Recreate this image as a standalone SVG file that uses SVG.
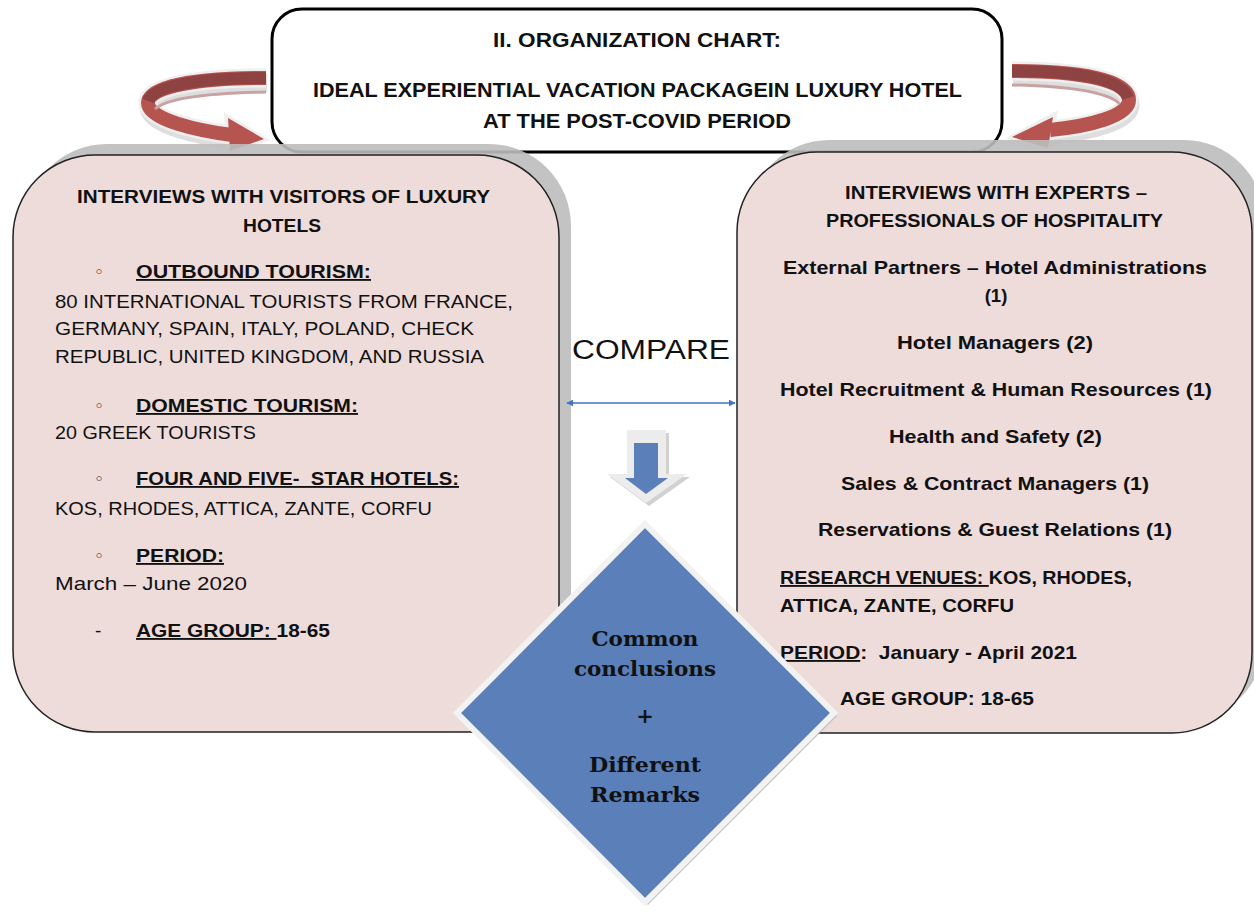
<svg xmlns="http://www.w3.org/2000/svg" width="1254" height="915" viewBox="0 0 1254 915">
<style>
.b{font-family:"Liberation Sans",Arial,sans-serif;font-weight:bold;font-size:18.5px;fill:#111}
.r{font-family:"Liberation Sans",Arial,sans-serif;font-size:19px;fill:#111}
.t{font-family:"Liberation Sans",Arial,sans-serif;font-weight:bold;font-size:19.5px;fill:#111}
.s{font-family:"DejaVu Serif","Liberation Serif",serif;font-weight:bold;font-size:21px;fill:#111}
.u{text-decoration:underline}
.pre{white-space:pre}
.box{fill:#eedcdb;stroke:#222;stroke-width:1.5}
.shadow{fill:#bdbdbd;opacity:0.9}
.bul{font-family:"DejaVu Sans",sans-serif;font-size:17px;fill:#111}
</style>
<defs>
<marker id="ah" viewBox="0 0 10 10" refX="9" refY="5" markerWidth="7" markerHeight="7" orient="auto-start-reverse" markerUnits="userSpaceOnUse">
<path d="M0,0 L10,5 L0,10 z" fill="#4472c4"/>
</marker>
</defs>
<rect width="1254" height="915" fill="#ffffff"/>

<g id="curved-arrow-left">
<path d="M266 80 C200 80 148 88 148 104 C148 122 200 133 234 137" fill="none" stroke="#c8c8c8" stroke-width="19" transform="translate(1,3)" opacity="0.6"/>
<path d="M266 78 C200 78 148 86 148 103 C148 120 200 131 234 135" fill="none" stroke="#efefef" stroke-width="19"/>
<polygon points="224,112 270,140 226,158" fill="#efefef"/>
<polygon points="228,118 264,139 230,151" fill="#b65450"/>
<path d="M266 78 C200 78 148 86 148 103 C148 120 200 131 232 135" fill="none" stroke="#b65450" stroke-width="14"/>
<path d="M266 78 C205 78 155 84 148 101" fill="none" stroke="#8e4242" stroke-width="12"/>
<path d="M266 92 C212 93 168 97 155 109" fill="none" stroke="#c9a3a3" stroke-width="3"/>
</g>

<g id="curved-arrow-right">
<path d="M1012 73 C1080 73 1129 82 1129 102 C1129 118 1090 128 1050 132" fill="none" stroke="#c8c8c8" stroke-width="19" transform="translate(1,3)" opacity="0.6"/>
<path d="M1012 71 C1080 71 1129 80 1129 100 C1129 116 1090 126 1050 130" fill="none" stroke="#efefef" stroke-width="19"/>
<polygon points="1058,110 1006,138 1052,156" fill="#efefef"/>
<polygon points="1053,117 1012,137 1048,148" fill="#b65450"/>
<path d="M1012 71 C1080 71 1129 80 1129 100 C1129 116 1090 126 1050 130" fill="none" stroke="#b65450" stroke-width="14"/>
<path d="M1012 71 C1075 71 1122 78 1128 98" fill="none" stroke="#8e4242" stroke-width="12"/>
<path d="M1012 85 C1066 86 1106 91 1120 104" fill="none" stroke="#c9a3a3" stroke-width="3"/>
</g>

<g id="title">
<rect x="272" y="9" width="730" height="143" rx="30" ry="30" fill="#ffffff" stroke="#000" stroke-width="3"/>
<text class="t" x="493" y="47" textLength="288" lengthAdjust="spacingAndGlyphs">II. ORGANIZATION CHART:</text>
<text class="t" x="313" y="97" textLength="649" lengthAdjust="spacingAndGlyphs">IDEAL EXPERIENTIAL VACATION PACKAGEIN LUXURY HOTEL</text>
<text class="t" x="483" y="128" textLength="308" lengthAdjust="spacingAndGlyphs">AT THE POST-COVID PERIOD</text>
</g>

<g id="visitors">
<rect class="shadow" x="25" y="144" width="546" height="577" rx="82" ry="82"/>
<rect class="box" x="13" y="155" width="546" height="577" rx="82" ry="82"/>
<text class="b" x="77" y="203" textLength="413" lengthAdjust="spacingAndGlyphs">INTERVIEWS WITH VISITORS OF LUXURY</text>
<text class="b" x="243" y="232" textLength="78" lengthAdjust="spacingAndGlyphs">HOTELS</text>
<text class="bul" x="94" y="278">◦</text>
<text class="b u" x="136" y="278" textLength="235" lengthAdjust="spacingAndGlyphs">OUTBOUND TOURISM:</text>
<text class="r" x="55" y="308" textLength="458" lengthAdjust="spacingAndGlyphs">80 INTERNATIONAL TOURISTS FROM FRANCE,</text>
<text class="r" x="55" y="335" textLength="419" lengthAdjust="spacingAndGlyphs">GERMANY, SPAIN, ITALY, POLAND, CHECK</text>
<text class="r" x="55" y="363" textLength="429" lengthAdjust="spacingAndGlyphs">REPUBLIC, UNITED KINGDOM, AND RUSSIA</text>
<text class="bul" x="94" y="412">◦</text>
<text class="b u" x="136" y="412" textLength="222" lengthAdjust="spacingAndGlyphs">DOMESTIC TOURISM:</text>
<text class="r" x="55" y="439" textLength="201" lengthAdjust="spacingAndGlyphs">20 GREEK TOURISTS</text>
<text class="bul" x="94" y="485">◦</text>
<text class="b u pre" x="136" y="485" textLength="323" lengthAdjust="spacingAndGlyphs">FOUR AND FIVE-  STAR HOTELS:</text>
<text class="r" x="55" y="515" textLength="377" lengthAdjust="spacingAndGlyphs">KOS, RHODES, ATTICA, ZANTE, CORFU</text>
<text class="bul" x="94" y="562">◦</text>
<text class="b u" x="136" y="562" textLength="88" lengthAdjust="spacingAndGlyphs">PERIOD:</text>
<text class="r" x="55" y="590" textLength="192" lengthAdjust="spacingAndGlyphs">March – June 2020</text>
<text class="r" x="95" y="637">-</text>
<text class="b pre" x="136" y="637" textLength="194" lengthAdjust="spacingAndGlyphs"><tspan class="u">AGE GROUP: </tspan>18-65</text>
</g>

<g id="experts">
<rect class="shadow" x="749" y="140" width="515" height="581" rx="80" ry="80"/>
<rect class="box" x="737" y="152" width="515" height="581" rx="80" ry="80"/>
<text class="b" x="845" y="199" textLength="302" lengthAdjust="spacingAndGlyphs">INTERVIEWS WITH EXPERTS –</text>
<text class="b" x="826" y="227" textLength="337" lengthAdjust="spacingAndGlyphs">PROFESSIONALS OF HOSPITALITY</text>
<text class="b" x="783" y="274" textLength="424" lengthAdjust="spacingAndGlyphs">External Partners – Hotel Administrations</text>
<text class="b" x="996" y="302" text-anchor="middle">(1)</text>
<text class="b" x="897" y="349" textLength="196" lengthAdjust="spacingAndGlyphs">Hotel Managers (2)</text>
<text class="b" x="780" y="396" textLength="432" lengthAdjust="spacingAndGlyphs">Hotel Recruitment &amp; Human Resources (1)</text>
<text class="b" x="889" y="443" textLength="213" lengthAdjust="spacingAndGlyphs">Health and Safety (2)</text>
<text class="b" x="841" y="490" textLength="308" lengthAdjust="spacingAndGlyphs">Sales &amp; Contract Managers (1)</text>
<text class="b" x="818" y="536" textLength="354" lengthAdjust="spacingAndGlyphs">Reservations &amp; Guest Relations (1)</text>
<text class="b pre" x="780" y="584" textLength="352" lengthAdjust="spacingAndGlyphs"><tspan class="u">RESEARCH VENUES: </tspan>KOS, RHODES,</text>
<text class="b" x="780" y="612" textLength="234" lengthAdjust="spacingAndGlyphs">ATTICA, ZANTE, CORFU</text>
<text class="b pre" x="780" y="659" textLength="297" lengthAdjust="spacingAndGlyphs"><tspan class="u">PERIOD</tspan>:  January - April 2021</text>
<text class="b" x="840" y="705" textLength="194" lengthAdjust="spacingAndGlyphs">AGE GROUP: 18-65</text>
</g>

<g id="connectors">
<line x1="567" y1="403" x2="735" y2="403" stroke="#4472c4" stroke-width="1.3" marker-start="url(#ah)" marker-end="url(#ah)"/>
<text class="r" x="572" y="359" textLength="158" lengthAdjust="spacingAndGlyphs" style="font-size:27px">COMPARE</text>
<g id="down-arrow">
<polygon points="630,433 669,433 669,477 690,477 649,506 610,477 630,477" fill="#bdbdbd" opacity="0.7"/>
<polygon points="627,430 666,430 666,474 687,474 646,503 607,474 627,474" fill="#ececec"/>
<polygon points="634,443 658,443 658,478 668,478 646,494 625,478 634,478" fill="#5a7fb9"/>
</g>
</g>

<g id="conclusions">
<polygon points="648,527 837,716 648,905 460,716" fill="#b8b8b8" opacity="0.8"/>
<polygon points="645,524 834,713 645,902 457,713" fill="#5a7fb9" stroke="#f2f2f2" stroke-width="6" stroke-linejoin="miter"/>
<text class="s" x="645" y="646" text-anchor="middle" textLength="107" lengthAdjust="spacingAndGlyphs">Common</text>
<text class="s" x="645" y="676" text-anchor="middle" textLength="142" lengthAdjust="spacingAndGlyphs">conclusions</text>
<text class="s" x="645" y="723" text-anchor="middle">+</text>
<text class="s" x="645" y="772" text-anchor="middle" textLength="112" lengthAdjust="spacingAndGlyphs">Different</text>
<text class="s" x="645" y="802" text-anchor="middle" textLength="110" lengthAdjust="spacingAndGlyphs">Remarks</text>
</g>
</svg>
